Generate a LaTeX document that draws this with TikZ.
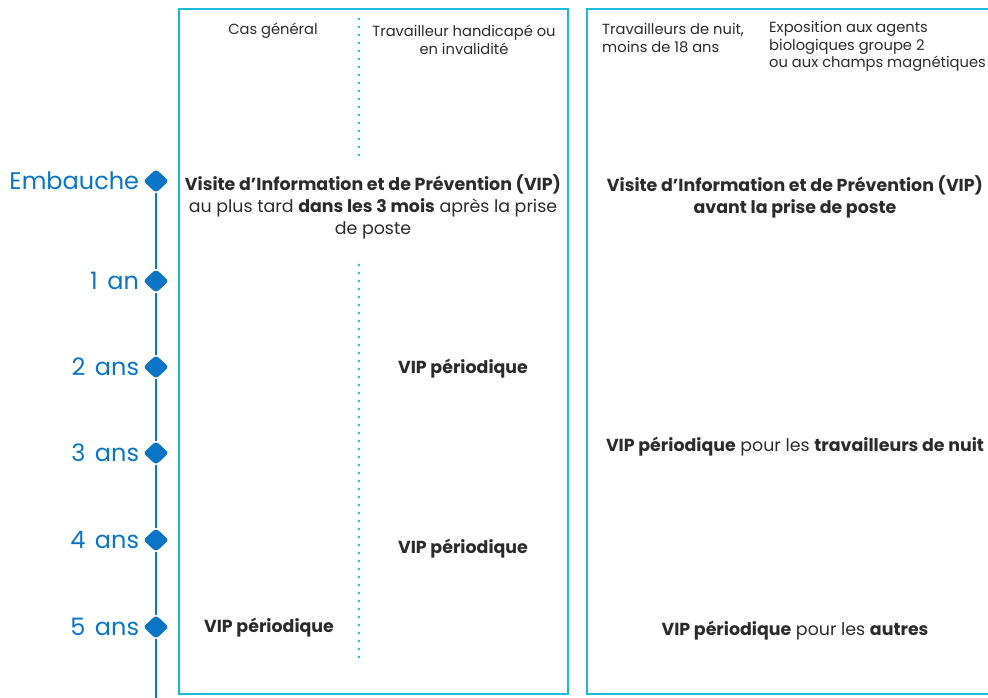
\documentclass[tikz,border=0pt]{standalone}
\usepackage{fontspec}
\setmainfont{Poppins}
\usepackage{tikz}
\usetikzlibrary{positioning,shapes.geometric}
\definecolor{lineblue}{HTML}{0A74C6}
\definecolor{boxcyan}{HTML}{1ABCD3}
\definecolor{ink}{HTML}{2B2B2B}

\begin{document}
\begin{tikzpicture}[x=1pt,y=-1pt]
            \tikzstyle{year}=[diamond,draw=lineblue,fill=lineblue,inner sep=0pt,minimum width=25pt,minimum height=23pt,rounded corners=3pt]
            \tikzstyle{year label}=[text=lineblue,inner sep=0pt,font={\fontsize{24}{28}\selectfont\spaceskip 0.4em\relax}]
            \tikzstyle{head}=[text=ink,inner sep=0pt,font=\fontsize{14.7}{17.5}\selectfont]
            \tikzstyle{body}=[text=ink,inner sep=0pt,align=center,font=\fontsize{17.4}{22}\selectfont]
            \tikzstyle{box}=[draw=boxcyan,line width=2.5pt]
            \tikzstyle{dots}=[draw=boxcyan,line width=2.6pt,line cap=round,dash pattern=on 0pt off 8pt]
            \useasboundingbox (0,0) rectangle (988,697);

            % boxes
            \draw[box] (179,9) rectangle (568,694);
            \draw[box] (1000,9) -- (587,9) -- (587,694) -- (1000,694);
            \draw[dots] (359,19) -- (359,160);
            \draw[dots] (359,265) -- (359,660);

            % timeline
            \node[year] (E) at (156,181) {};
            \node[year] (Y1) at (156,281) {};
            \node[year] (Y2) at (156,367) {};
            \node[year] (Y3) at (156,453) {};
            \node[year] (Y4) at (156,540) {};
            \node[year] (Y5) at (156,627) {};
            \coordinate (T) at (156,700);
            \draw[lineblue,line width=2.5pt] (E) -- (Y1) -- (Y2) -- (Y3) -- (Y4) -- (Y5) -- (T);

            \node[year label] (LE) [left=4pt of E] {Embauche};
            \node[year label] (L1) [left=4pt of Y1] {1 an};
            \node[year label] (L2) [left=4pt of Y2] {2 ans};
            \node[year label] (L3) [left=4pt of Y3] {3 ans};
            \node[year label] (L4) [left=4pt of Y4] {4 ans};
            \node[year label] (L5) [left=4pt of Y5] {5 ans};

            % column heads
            \node[head] (H1) at (273,31) {Cas général};
            \node[head,align=center] (H2) at (464,40) {Travailleur handicapé ou\\en invalidité};
            \node[head,align=left,anchor=west] (H3) at (602,38) {Travailleurs de nuit,\\moins de 18 ans};
            \node[head,align=left,anchor=west] (H4) at (769,46.5) {Exposition aux agents\\biologiques groupe 2\\ou aux champs magnétiques};

            % visits
            \node[body] (V1) at (373,207) {\textbf{Visite d’Information et de Prévention (VIP)}\\au plus tard \textbf{dans les 3 mois} après la prise\\de poste};
            \node[body] (V2) at (795,197) {\textbf{Visite d’Information et de Prévention (VIP)}\\\textbf{avant la prise de poste}};
            \node[body] (P1) at (463,369) {\textbf{VIP périodique}};
            \node[body] (P2) at (463,549) {\textbf{VIP périodique}};
            \node[body] (P3) at (269,628) {\textbf{VIP périodique}};
            \node[body] (P4) at (795,447) {\textbf{VIP périodique} pour les \textbf{travailleurs de nuit}};
            \node[body] (P5) at (795,631) {\textbf{VIP périodique} pour les \textbf{autres}};
        \end{tikzpicture}
\end{document}
